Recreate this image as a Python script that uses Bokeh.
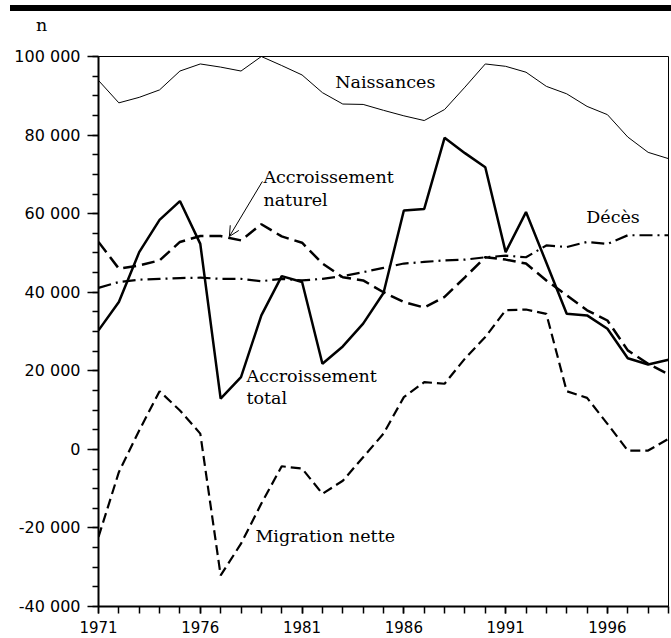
from bokeh.plotting import figure
from bokeh.models import Label, Arrow, OpenHead, FixedTicker, Div
from bokeh.layouts import column
from bokeh.embed import file_html
from bokeh.resources import INLINE

years = list(range(1971, 2000))

naissances = [93.9, 88.2, 89.6, 91.5, 96.3, 98.1, 97.3, 96.3, 100.0, 97.7, 95.3, 90.8, 87.9,
              87.8, 86.3, 84.9, 83.7, 86.5, 92.2, 98.1, 97.5, 96.0, 92.4, 90.5, 87.3, 85.2,
              79.5, 75.6, 74.0]
deces = [41.1, 42.6, 43.2, 43.4, 43.6, 43.7, 43.4, 43.4, 42.8, 43.4, 43.0, 43.4, 44.1,
         45.1, 46.2, 47.3, 47.7, 48.1, 48.3, 48.9, 49.3, 48.9, 51.9, 51.5, 52.8, 52.3,
         54.5, 54.5, 54.5]
acc_naturel = [52.8, 46.0, 46.8, 48.1, 52.8, 54.3, 54.3, 53.2, 57.3, 54.2, 52.6, 47.3, 43.8,
               43.0, 40.0, 37.5, 36.1, 38.8, 43.8, 48.9, 48.3, 47.3, 43.0, 39.2, 35.4, 32.8,
               25.2, 21.8, 19.1]
acc_total = [30.3, 37.5, 50.2, 58.4, 63.2, 52.3, 12.9, 18.4, 34.1, 44.1, 42.6, 21.8, 26.2,
             32.0, 39.8, 60.8, 61.2, 79.3, 75.4, 71.8, 50.2, 60.4, 47.5, 34.5, 34.1, 30.7,
             23.2, 21.6, 22.8]
migration = [-22.3, -5.8, 4.8, 14.8, 9.9, 4.0, -32.1, -24.0, -13.8, -4.3, -4.9, -11.3, -8.0,
             -2.0, 4.0, 13.3, 17.1, 16.7, 23.1, 28.6, 35.4, 35.6, 34.5, 14.8, 13.1, 6.5,
             -0.3, -0.3, 2.7]

x_ticks = [1971, 1976, 1981, 1986, 1991, 1996]
y_ticks = [-40000, -20000, 0, 20000, 40000, 60000, 80000, 100000]
y_tick_labels = ["-40 000", "-20 000", "0", "20 000", "40 000", "60 000", "80 000", "100 000"]
y_unit = "n"

def k(vals):
    return [v * 1000 for v in vals]

p = figure(width=671, height=603, output_backend="svg", toolbar_location=None,
           x_range=(1971, 1999), y_range=(-40000, 100000),
           min_border_left=98, min_border_right=3, min_border_top=24, min_border_bottom=29)
p.grid.visible = False
p.outline_line_color = "black"
p.outline_line_width = 1
p.background_fill_color = "white"
p.border_fill_color = "white"

p.line(years, k(naissances), line_color="black", line_width=1)
p.line(years, k(deces), line_color="black", line_width=2.2, line_dash="13 5 2 5")
p.line(years, k(acc_naturel), line_color="black", line_width=2.5, line_dash="13 6")
p.line(years, k(migration), line_color="black", line_width=2.2, line_dash="10 5")
p.line(years, k(acc_total), line_color="black", line_width=2.5)

# axes
xa = p.xaxis[0]
xa.ticker = FixedTicker(ticks=x_ticks, minor_ticks=years)
xa.axis_line_width = 2
xa.major_tick_out = 7
xa.major_tick_in = 0
xa.minor_tick_out = 7
xa.minor_tick_in = 0
xa.major_tick_line_width = 1.5
xa.minor_tick_line_width = 1.5
xa.major_label_standoff = 7
xa.major_label_text_font = "DejaVu Sans"
xa.major_label_text_font_size = "15px"
xa.major_label_text_color = "black"

ya = p.yaxis[0]
ya.ticker = FixedTicker(ticks=y_ticks, minor_ticks=list(range(-40000, 100001, 5000)))
ya.major_label_overrides = {t: l for t, l in zip(y_ticks, y_tick_labels)}
ya.axis_line_width = 2
ya.major_tick_out = 11
ya.major_tick_in = 0
ya.minor_tick_out = 6
ya.minor_tick_in = 0
ya.major_tick_line_width = 1.5
ya.minor_tick_line_width = 1.5
ya.major_label_standoff = 7
ya.major_label_text_font = "DejaVu Sans"
ya.major_label_text_font_size = "16px"
ya.major_label_text_color = "black"

def lab(x, y, t):
    p.add_layout(Label(x=x, y=y, text=t, text_font="DejaVu Serif", text_font_size="17.5px",
                       text_color="black", text_baseline="middle", text_align="left"))

lab(1982.63, 93500, "Naissances")
lab(1979.10, 69300, "Accroissement")
lab(1979.10, 63400, "naturel")
lab(1994.96, 59100, "Décès")
lab(1978.27, 18600, "Accroissement")
lab(1978.27, 13200, "total")
lab(1978.71, -22100, "Migration  nette")

p.add_layout(Arrow(x_start=1979.05, y_start=68200, x_end=1977.43, y_end=54200,
                   line_color="black", line_width=1,
                   end=OpenHead(size=10, line_color="black", line_width=1)))

header_html = (
    '<div style="background:#000;height:6px;width:661px"></div>'
    '<div style="font-family:\'DejaVu Serif\';font-size:17.5px;line-height:20px;'
    'margin:4px 0 0 26px;color:#000">' + y_unit + '</div>'
)
header = Div(text=header_html, width=661, height=27, margin=(5, 0, 0, 10))
layout = column(header, p, spacing=0)

open("out.html", "w").write(file_html(layout, INLINE))
